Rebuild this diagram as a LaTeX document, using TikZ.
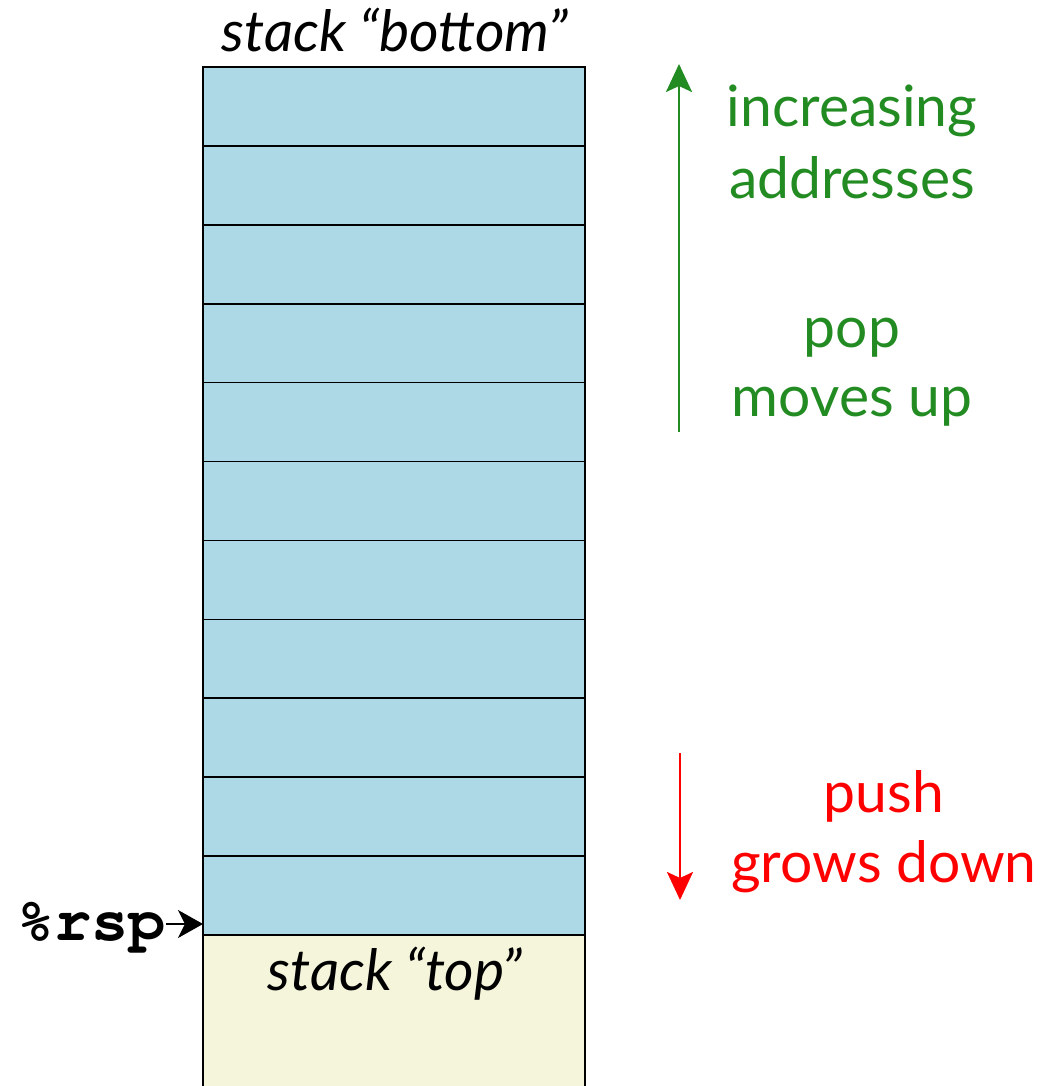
\documentclass[tikz,border=0pt]{standalone}
\usepackage{fontspec}
\setmainfont{Lato}
\usetikzlibrary{arrows.meta}
\definecolor{cellblue}{RGB}{173,216,230}
\definecolor{cellbeige}{RGB}{245,245,220}
\definecolor{upgreen}{RGB}{34,139,34}
\definecolor{downred}{RGB}{255,0,0}
% bold Courier for register names
\newcommand{\regfont}{\fontencoding{T1}\fontfamily{pcr}\fontseries{b}\fontsize{62}{62}\selectfont}
\begin{document}
\begin{tikzpicture}[x=1pt,y=-1pt,
  cell/.style={draw=black,line width=1.6pt},
  lbl/.style={font=\fontsize{57}{60}\selectfont,anchor=base,inner sep=0pt},
  dirarrow/.style={line width=2.6pt,arrows={-Stealth[length=28pt,width=26pt,inset=6pt]}}]
\useasboundingbox (0,0) rectangle (1049,1086);
% stack cells
\foreach \i in {0,...,10}{
  \fill[cellblue] (203,{67+\i*78.9}) rectangle (585,{67+(\i+1)*78.9});
  \draw[cell] (203,{67+\i*78.9}) rectangle (585,{67+(\i+1)*78.9});
}
\fill[cellbeige] (203,935) rectangle (585,1090);
\draw[cell] (203,1090) -- (203,935) -- (585,935) -- (585,1090);
\node[lbl] (bottomlbl) at (395,52) {\itshape stack “bottom”};
\node[lbl] (toplbl) at (395,990) {\itshape stack “top”};
% stack pointer
\node[font=\regfont,anchor=base east,inner sep=0pt] (rsp) at (166,940) {\%rsp};
\coordinate (rspat) at (203,924);
\draw[line width=1.6pt,arrows={-Stealth[length=25pt,width=28pt,inset=7pt]}] (rsp.east |- rspat) -- (rspat);
% direction arrows
\coordinate (gbot) at (679,432);
\coordinate (gtop) at (679,64);
\draw[upgreen,dirarrow] (gbot) -- (gtop);
\node[lbl,text=upgreen] (inc1) at (852,127) {increasing};
\node[lbl,text=upgreen] (inc2) at (852,198) {addresses};
\node[lbl,text=upgreen] (pop1) at (852,347) {pop};
\node[lbl,text=upgreen] (pop2) at (852,416) {moves up};
\coordinate (rtop) at (680,753);
\coordinate (rbot) at (680,900);
\draw[downred,dirarrow] (rtop) -- (rbot);
\node[lbl,text=downred] (push1) at (884,812) {push};
\node[lbl,text=downred] (push2) at (884,882) {grows down};
\end{tikzpicture}
\end{document}
